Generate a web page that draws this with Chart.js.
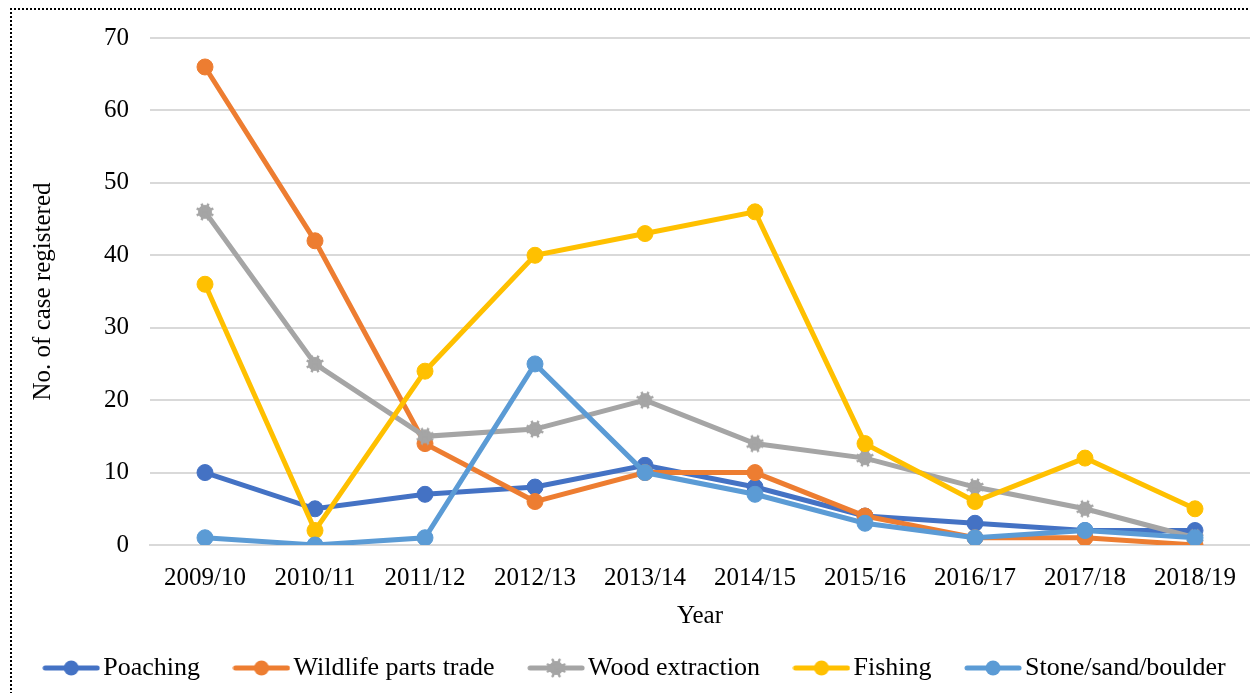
<!DOCTYPE html>
<html lang="en">
<head>
    <meta charset="UTF-8">
    <title>No. of case registered by year</title>
    <script src="https://cdn.jsdelivr.net/npm/chart.js"></script>
    <style>
        body { margin: 0; background: #fff; overflow: hidden; }
        #wrap { position: relative; width: 1250px; height: 693px; }
        #frame {
            position: absolute; left: 10px; top: 8px; width: 1300px; height: 800px;
            border-left: 2px dotted #000; border-top: 2px dotted #000;
            pointer-events: none;
        }
    </style>
</head>
<body>
    <div id="wrap">
        <canvas id="chart" width="1250" height="693"></canvas>
        <div id="frame"></div>
    </div>

    <script>
        // data
        const years = ['2009/10', '2010/11', '2011/12', '2012/13', '2013/14', '2014/15', '2015/16', '2016/17', '2017/18', '2018/19'];
        const poaching = [10, 5, 7, 8, 11, 8, 4, 3, 2, 2];
        const wildlifeTrade = [66, 42, 14, 6, 10, 10, 4, 1, 1, 0];
        const woodExtraction = [46, 25, 15, 16, 20, 14, 12, 8, 5, 1];
        const fishing = [36, 2, 24, 40, 43, 46, 14, 6, 12, 5];
        const stoneSand = [1, 0, 1, 25, 10, 7, 3, 1, 2, 1];
        const seriesNames = ['Poaching', 'Wildlife parts trade', 'Wood extraction', 'Fishing', 'Stone/sand/boulder'];
        const seriesColors = ['#4472C4', '#ED7D31', '#A5A5A5', '#FFC000', '#5B9BD5'];
        const seriesData = [poaching, wildlifeTrade, woodExtraction, fishing, stoneSand];

        const font = 'Liberation Serif';
        const fs = 25;

        // gear-like marker (Excel's star marker with thick outline)
        function drawGear(g, cx, cy, color) {
            g.fillStyle = color; g.strokeStyle = color;
            g.beginPath(); g.arc(cx, cy, 7, 0, Math.PI * 2); g.fill();
            g.lineWidth = 2.5;
            for (let k = 0; k < 8; k++) {
                const a = k * Math.PI / 4 + Math.PI / 8;
                g.beginPath();
                g.moveTo(cx, cy);
                g.lineTo(cx + 9 * Math.cos(a), cy + 9 * Math.sin(a));
                g.stroke();
            }
        }
        function gearImage(color) {
            const c = document.createElement('canvas');
            c.width = 20; c.height = 20;
            drawGear(c.getContext('2d'), 10, 10, color);
            return c;
        }

        // little line+marker image for the legend
        function legendIcon(color, gear) {
            const c = document.createElement('canvas');
            c.width = 58; c.height = 20;
            const g = c.getContext('2d');
            g.strokeStyle = color; g.fillStyle = color;
            g.lineWidth = 5; g.lineCap = 'round';
            g.beginPath(); g.moveTo(3, 10); g.lineTo(55, 10); g.stroke();
            if (gear) {
                drawGear(g, 29, 10, color);
            } else {
                g.beginPath(); g.arc(29, 10, 7.5, 0, Math.PI * 2); g.fill();
            }
            return c;
        }

        const datasets = seriesNames.map((name, i) => ({
            label: name,
            data: seriesData[i],
            borderColor: seriesColors[i],
            backgroundColor: seriesColors[i],
            borderWidth: 5,
            pointStyle: i === 2 ? gearImage(seriesColors[i]) : 'circle',
            pointRadius: 8,
            pointBorderWidth: 1,
            tension: 0,
            order: seriesNames.length - i // later series on top, like Excel
        }));

        new Chart(document.getElementById('chart'), {
            type: 'line',
            data: { labels: years, datasets },
            options: {
                responsive: false,
                animation: false,
                layout: { autoPadding: false, padding: { left: 28, right: 0, top: 38, bottom: 2 } },
                plugins: {
                    tooltip: { enabled: false },
                    legend: {
                        position: 'bottom',
                        labels: {
                            usePointStyle: true,
                            pointStyleWidth: 38,
                            padding: 10,
                            color: '#000',
                            font: { family: font, size: fs + 1 },
                            sort: (a, b) => a.datasetIndex - b.datasetIndex,
                            // trailing spaces give the wide gaps between entries
                            generateLabels: chart => seriesNames.map((name, i) => ({
                                text: i < seriesNames.length - 1 ? name + '     ' : name,
                                datasetIndex: i,
                                fillStyle: seriesColors[i],
                                strokeStyle: seriesColors[i],
                                lineWidth: 0,
                                fontColor: '#000',
                                pointStyle: legendIcon(seriesColors[i], i === 2),
                                hidden: false
                            }))
                        }
                    }
                },
                scales: {
                    x: {
                        offset: true,
                        afterFit: s => { s.paddingLeft = 0; s.paddingRight = 0; },
                        grid: { display: false, drawTicks: false },
                        border: { display: true, color: '#d9d9d9', width: 2 },
                        ticks: { color: '#000', font: { family: font, size: fs }, padding: 18, maxRotation: 0 },
                        title: { display: true, text: 'Year', color: '#000', font: { family: font, size: fs }, padding: { top: -10, bottom: 14 } }
                    },
                    y: {
                        min: 0, max: 70,
                        afterFit: s => { s.width = 122; },
                        ticks: { stepSize: 10, color: '#000', font: { family: font, size: fs }, padding: 21 },
                        grid: { color: '#d9d9d9', lineWidth: 2, drawTicks: false },
                        border: { display: false },
                        title: { display: true, text: 'No. of case registered', color: '#000', font: { family: font, size: fs }, padding: { top: 0, bottom: 30 } }
                    }
                }
            }
        });
    </script>
</body>
</html>
